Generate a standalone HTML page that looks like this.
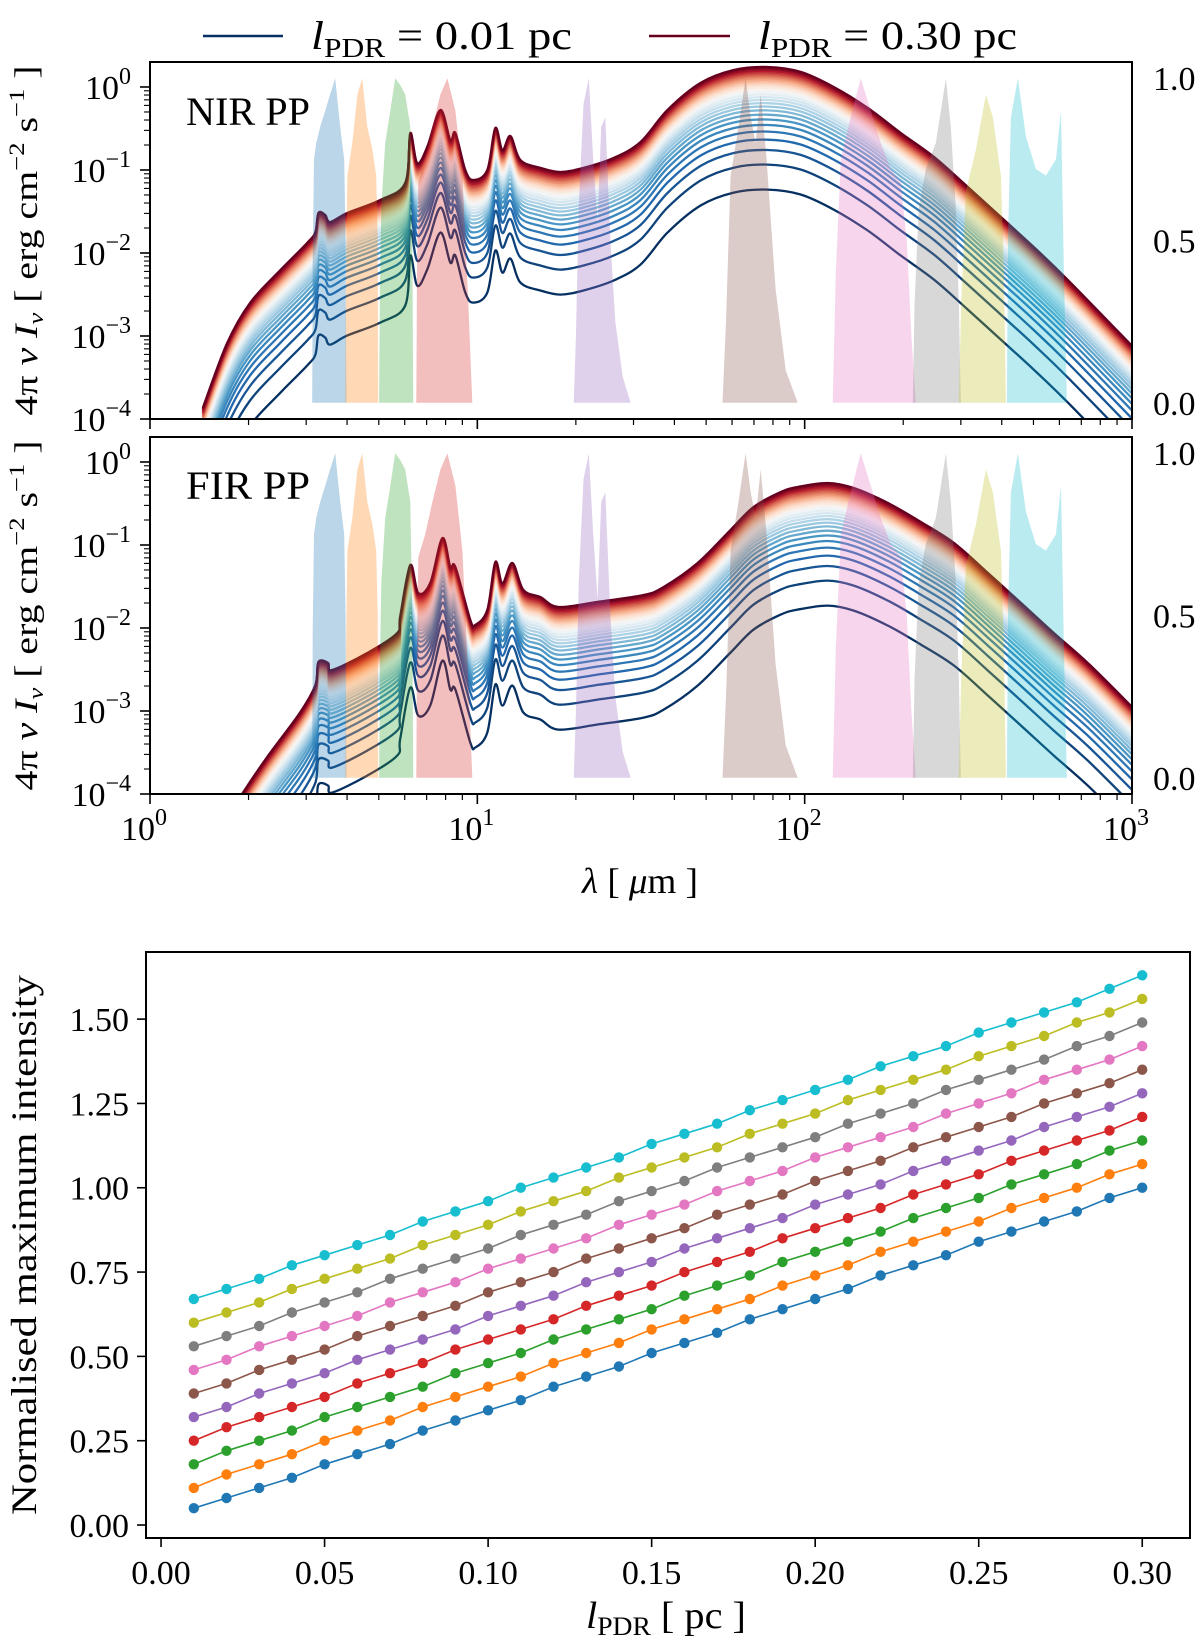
<!DOCTYPE html>
<html><head><meta charset="utf-8"><title>PDR SEDs</title>
<style>
html,body{margin:0;padding:0;background:#fff;}
svg{display:block;}
text{font-family:"Liberation Serif","DejaVu Serif",serif;fill:#000;}
</style></head>
<body>
<svg id="fig" xmlns="http://www.w3.org/2000/svg" width="1200" height="1644" viewBox="0 0 1200 1644">
<defs>
<clipPath id="clipA"><rect x="150" y="62" width="982" height="357"/></clipPath>
<clipPath id="clipB"><rect x="150" y="437" width="982" height="357"/></clipPath>
</defs>
<g id="legend">
 <line x1="203" y1="36" x2="283" y2="36" stroke="#053061" stroke-width="2.5"/>
 <text x="311" y="49" font-size="40" textLength="261" lengthAdjust="spacingAndGlyphs"><tspan font-style="italic">l</tspan><tspan font-size="27" dy="8">PDR</tspan><tspan dy="-8"> = 0.01 pc</tspan></text>
 <line x1="649" y1="36" x2="730" y2="36" stroke="#67001f" stroke-width="2.5"/>
 <text x="758" y="49" font-size="40" textLength="259" lengthAdjust="spacingAndGlyphs"><tspan font-style="italic">l</tspan><tspan font-size="27" dy="8">PDR</tspan><tspan dy="-8"> = 0.30 pc</tspan></text>
</g>
<g id="panelA"></g>
<g id="panelB"></g>
<text x="640" y="893" font-size="36" text-anchor="middle" textLength="116" lengthAdjust="spacingAndGlyphs"><tspan font-style="italic">λ</tspan> [ <tspan font-style="italic">μ</tspan>m ]</text>
<g id="panelC"></g>
</svg>
<script>
// ---- SED chart data ----
const lpdr = [0.01,0.02,0.03,0.04,0.05,0.06,0.07,0.08,0.09,0.10,0.11,0.12,0.13,0.14,0.15,0.16,0.17,0.18,0.19,0.20,0.21,0.22,0.23,0.24,0.25,0.26,0.27,0.28,0.29,0.30];
const nirLam = [1.45,1.72,2.02,2.50,3.02,3.20,3.27,3.43,3.55,4.00,5.05,6.02,6.24,6.55,7.03,7.71,8.27,8.57,9.19,9.72,10.73,11.35,11.93,12.62,13.54,15.58,17.94,21.1,26.1,31.5,38.1,48.1,60.7,77.1,97.2,122.7,155.9,196.6,248,315,397,501,637,1000];
const nirI = [1.36e-4,8.2e-4,2.5e-3,6.2e-3,1.32e-2,1.79e-2,3.03e-2,2.87e-2,2.36e-2,3.03e-2,4.35e-2,6.97e-2,0.279,0.121,0.189,0.528,0.230,0.279,0.100,7.58e-2,0.100,0.321,0.174,0.257,0.132,0.106,9.46e-2,0.106,0.140,0.217,0.528,1.12,1.60,1.74,1.52,1.0,0.558,0.279,0.144,6.24e-2,2.72e-2,1.18e-2,4.73e-3,7.6e-4];
const firLam = [1.91,2.28,2.87,3.20,3.27,3.50,3.60,4.61,5.69,5.81,6.24,6.60,7.18,7.82,8.27,8.57,9.52,9.86,10.73,11.35,11.93,12.80,13.83,15.58,17.69,23.3,32.2,37.1,47.1,59.4,69.8,84.5,95.2,117.5,141.2,179.5,226.5,285.7,363,458,577,733,1007];
const firI = [1.0e-4,2.79e-4,9.5e-4,2.06e-3,3.89e-3,3.79e-3,3.12e-3,5.0e-3,8.7e-3,1.36e-2,5.74e-2,2.64e-2,3.48e-2,0.121,5.43e-2,5.43e-2,1.25e-2,1.09e-2,1.65e-2,6.24e-2,3.48e-2,6.07e-2,2.87e-2,2.36e-2,1.79e-2,2.06e-2,2.50e-2,3.12e-2,6.07e-2,0.152,0.287,0.435,0.50,0.558,0.486,0.321,0.189,0.106,4.60e-2,2.0e-2,8.7e-3,3.79e-3,1.09e-3];
const filterColors = ['#1f77b4','#ff7f0e','#2ca02c','#d62728','#9467bd','#8c564b','#e377c2','#7f7f7f','#bcbd22','#17becf'];
const filterNames = ['irac-3.6','irac-4.5','irac-5.8','irac-8.0','mips-24','pacs-70','pacs-160','spire-250','spire-350','spire-500'];
const filterLam = [
 [3.13,3.14,3.17,3.22,3.31,3.43,3.55,3.68,3.81,3.92,3.96,3.98],
 [3.95,3.97,4.01,4.15,4.30,4.45,4.61,4.78,4.91,4.96,4.98],
 [5.01,5.04,5.09,5.23,5.42,5.61,5.81,6.02,6.24,6.33,6.37],
 [6.51,6.54,6.60,6.93,7.29,7.71,8.10,8.57,9.00,9.39,9.65],
 [19.7,20.0,20.4,21.1,21.9,22.6,23.3,23.9,24.6,25.5,26.4,27.8,29.4],
 [56.1,57.5,59.4,62.8,66.0,68.4,70.8,73.4,76.5,81.5,87.5,95.2],
 [121.8,124.5,128.9,138.2,148.3,159.2,170.8,183.2,196.6,205.1,212.0,218.5],
 [213.9,216.5,223.1,234.4,251.5,270.0,279.6,289.6,296.0,300.0],
 [295.8,300.5,310.7,333.4,357.7,375.8,397.6,406.0,411.9],
 [414.8,418.0,426.6,448.2,474.1,508.6,545.8,585.8,606.8,619.4,632.6]
];
const filterT = [
 [0,0.45,0.75,0.8,0.85,0.9,0.95,1.0,0.85,0.75,0.5,0],
 [0,0.4,0.7,0.8,0.95,1.0,0.85,0.78,0.7,0.5,0],
 [0,0.35,0.6,0.8,0.9,1.0,0.98,0.95,0.85,0.5,0],
 [0,0.4,0.68,0.75,0.85,0.95,1.0,0.9,0.7,0.3,0],
 [0,0.2,0.6,0.92,1.0,0.75,0.55,0.85,0.88,0.5,0.25,0.08,0],
 [0,0.25,0.7,0.85,1.0,0.88,0.8,0.95,0.75,0.35,0.1,0],
 [0,0.4,0.75,0.88,1.0,0.9,0.8,0.72,0.68,0.5,0.2,0],
 [0,0.3,0.6,0.72,0.8,1.0,0.85,0.6,0.3,0],
 [0,0.3,0.65,0.78,0.95,0.88,0.7,0.4,0],
 [0,0.5,0.88,1.0,0.82,0.72,0.7,0.75,0.9,0.4,0]
];
const xTickLabels = ['0','1','2','3'];
const yTickExps = ['0','−1','−2','−3','−4'];
const rightTickLabels = ['0.0','0.5','1.0'];

// ---- Normalised intensity chart data ----
const seriesColors = ['#1f77b4','#ff7f0e','#2ca02c','#d62728','#9467bd','#8c564b','#e377c2','#7f7f7f','#bcbd22','#17becf'];
const s0 = [.05,.08,.11,.14,.18,.21,.24,.28,.31,.34,.37,.41,.44,.47,.51,.54,.57,.61,.64,.67,.70,.74,.77,.80,.84,.87,.90,.93,.97,1.00];
const s1 = [.11,.15,.18,.21,.25,.28,.31,.35,.38,.41,.44,.48,.51,.54,.58,.61,.64,.67,.71,.74,.77,.81,.84,.87,.90,.94,.97,1.00,1.04,1.07];
const s2 = [.18,.22,.25,.28,.32,.35,.38,.41,.45,.48,.51,.55,.58,.61,.64,.68,.71,.74,.78,.81,.84,.87,.91,.94,.97,1.01,1.04,1.07,1.11,1.14];
const s3 = [.25,.29,.32,.35,.38,.42,.45,.48,.52,.55,.58,.61,.65,.68,.71,.75,.78,.81,.85,.88,.91,.94,.98,1.01,1.04,1.08,1.11,1.14,1.17,1.21];
const s4 = [.32,.35,.39,.42,.45,.49,.52,.55,.58,.62,.65,.68,.72,.75,.78,.82,.85,.88,.91,.95,.98,1.01,1.05,1.08,1.11,1.14,1.18,1.21,1.24,1.28];
const s5 = [.39,.42,.46,.49,.52,.56,.59,.62,.65,.69,.72,.75,.79,.82,.85,.88,.92,.95,.98,1.02,1.05,1.08,1.12,1.15,1.18,1.21,1.25,1.28,1.31,1.35];
const s6 = [.46,.49,.53,.56,.59,.62,.66,.69,.72,.76,.79,.82,.85,.89,.92,.95,.99,1.02,1.05,1.09,1.12,1.15,1.18,1.22,1.25,1.28,1.32,1.35,1.38,1.42];
const s7 = [.53,.56,.59,.63,.66,.69,.73,.76,.79,.82,.86,.89,.92,.96,.99,1.02,1.06,1.09,1.12,1.15,1.19,1.22,1.25,1.29,1.32,1.35,1.38,1.42,1.45,1.49];
const s8 = [.60,.63,.66,.70,.73,.76,.79,.83,.86,.89,.93,.96,.99,1.03,1.06,1.09,1.12,1.16,1.19,1.22,1.26,1.29,1.32,1.35,1.39,1.42,1.45,1.49,1.52,1.56];
const s9 = [.67,.70,.73,.77,.80,.83,.86,.90,.93,.96,1.00,1.03,1.06,1.09,1.13,1.16,1.19,1.23,1.26,1.29,1.32,1.36,1.39,1.42,1.46,1.49,1.52,1.55,1.59,1.63];
const allSeries = [s0,s1,s2,s3,s4,s5,s6,s7,s8,s9];
const bxTicks = [0,0.05,0.10,0.15,0.20,0.25,0.30];
const bxTickLabels = ['0.00','0.05','0.10','0.15','0.20','0.25','0.30'];
const byTicks = [0,0.25,0.5,0.75,1.0,1.25,1.5];
const byTickLabels = ['0.00','0.25','0.50','0.75','1.00','1.25','1.50'];

const NS = 'http://www.w3.org/2000/svg';
function mk(tag, parent, attrs){ const e=document.createElementNS(NS,tag); for(const k in attrs) e.setAttribute(k,attrs[k]); parent.appendChild(e); return e; }

const cmap = ['#053061','#2166ac','#4393c3','#92c5de','#d1e5f0','#f7f7f7','#fddbc7','#f4a582','#d6604d','#b2182b','#67001f'];
function hex2(c){return [parseInt(c.slice(1,3),16),parseInt(c.slice(3,5),16),parseInt(c.slice(5,7),16)];}
function rdbu(t){ const p=t*10, i=Math.min(9,Math.floor(p)), f=p-i; const a=hex2(cmap[i]), b=hex2(cmap[i+1]); return 'rgb('+a.map((v,k)=>Math.round(v+(b[k]-v)*f)).join(',')+')'; }
function smoothPath(pts){
  let d='M'+pts[0][0].toFixed(1)+','+pts[0][1].toFixed(1);
  for(let i=0;i<pts.length-1;i++){
    const p0=pts[Math.max(0,i-1)], p1=pts[i], p2=pts[i+1], p3=pts[Math.min(pts.length-1,i+2)];
    const c1=[p1[0]+(p2[0]-p0[0])/6, p1[1]+(p2[1]-p0[1])/6];
    const c2=[p2[0]-(p3[0]-p1[0])/6, p2[1]-(p3[1]-p1[1])/6];
    d+='C'+c1[0].toFixed(1)+','+c1[1].toFixed(1)+' '+c2[0].toFixed(1)+','+c2[1].toFixed(1)+' '+p2[0].toFixed(1)+','+p2[1].toFixed(1);
  }
  return d;
}

const X0=150, X1=1132;
function xLog(lam){ return X0 + Math.log10(lam)/3*(X1-X0); }
function makePanel(gid, clipId, yTop, yBot, lam, inten, label, labelY){
  const g=document.getElementById(gid);
  const yLog = v => yBot - (Math.log10(v)+4)/4.301*(yBot-yTop);
  const yT = t => yBot - (t+0.05)/1.1*(yBot-yTop);
  const plot=mk('g',g,{'clip-path':'url(#'+clipId+')'});
  
  
  lpdr.forEach((l,i)=>{
    const f=l/0.30;
    const pts=lam.map((x,k)=>[xLog(x), yLog(inten[k]*f)]);
    const p=mk('path',plot,{d:smoothPath(pts),fill:'none',stroke:rdbu(i/(lpdr.length-1)),'stroke-width':2.3,'stroke-linejoin':'round'});
    
    
  });
  filterLam.forEach((fl,j)=>{
    let d='M'+xLog(fl[0]).toFixed(1)+','+yT(0).toFixed(1);
    fl.forEach((x,k)=>{ d+='L'+xLog(x).toFixed(1)+','+yT(filterT[j][k]).toFixed(1); });
    d+='Z';
    const p=mk('path',plot,{d:d,fill:filterColors[j],'fill-opacity':0.3,stroke:'none'});
    
    
  });
  const fr=mk('rect',g,{x:X0,y:yTop,width:X1-X0,height:yBot-yTop,fill:'none',stroke:'#000','stroke-width':2});
  
  
  for(let dd=0; dd<=3; dd++){
    const x=xLog(Math.pow(10,dd));
    mk('line',g,{x1:x,x2:x,y1:yBot,y2:yBot+10,stroke:'#000','stroke-width':1.6});
    if(dd<3) for(let m=2;m<=9;m++){ const xm=xLog(m*Math.pow(10,dd)); mk('line',g,{x1:xm,x2:xm,y1:yBot,y2:yBot+6,stroke:'#000','stroke-width':1.2}); }
  }
  for(let dd=-4; dd<=0; dd++){
    const y=yLog(Math.pow(10,dd));
    mk('line',g,{x1:X0-10,x2:X0,y1:y,y2:y,stroke:'#000','stroke-width':1.6});
    for(let m=2;m<=9;m++){ const v=m*Math.pow(10,dd); if(Math.log10(v)<=0.301){ const ym=yLog(v); mk('line',g,{x1:X0-6,x2:X0,y1:ym,y2:ym,stroke:'#000','stroke-width':1.1}); } }
    const t=mk('text',g,{x:131,y:(y+12).toFixed(1),'font-size':34,'text-anchor':'end'});
    
    
    t.innerHTML='10<tspan font-size="24" dy="-15">'+yTickExps[-dd]+'</tspan>';
  }
  [0,0.5,1.0].forEach((v,k)=>{
    const t=mk('text',g,{x:1153,y:(yT(v)+12).toFixed(1),'font-size':34});
    
    
    t.textContent=rightTickLabels[k];
  });
  const pl=mk('text',g,{x:186,y:labelY,'font-size':40,textLength:124,lengthAdjust:'spacingAndGlyphs'});
  
  
  pl.textContent=label;
  const cy=(yTop+yBot)/2;
  const yt=mk('text',g,{x:0,y:0,'font-size':33,'text-anchor':'middle',transform:'translate(37,'+cy+') rotate(-90)',textLength:350,lengthAdjust:'spacingAndGlyphs'});
  
  
  yt.innerHTML='4π <tspan font-style="italic">ν I</tspan><tspan font-size="22" dy="6" font-style="italic">ν</tspan><tspan dy="-6"> [ erg cm</tspan><tspan font-size="22" dy="-13">−2</tspan><tspan dy="13"> s</tspan><tspan font-size="22" dy="-13">−1</tspan><tspan dy="13"> ]</tspan>';
}
makePanel('panelA','clipA',62,419,nirLam,nirI,'NIR PP',125);
makePanel('panelB','clipB',437,794,firLam,firI,'FIR PP',499);
(function(){
  const g=document.getElementById('panelB');
  for(let dd=0; dd<=3; dd++){
    const t=mk('text',g,{x:xLog(Math.pow(10,dd))-6,y:840,'font-size':34,'text-anchor':'middle'});
    
    
    t.innerHTML='10<tspan font-size="24" dy="-15">'+xTickLabels[dd]+'</tspan>';
  }
})();

(function(){
  const g=document.getElementById('panelC');
  const L=146,R=1190,T=952,B=1538;
  const xmin=-0.0046,xmax=0.3146,ymin=-0.0385,ymax=1.699;
  const X=v=>L+(v-xmin)/(xmax-xmin)*(R-L);
  const Y=v=>B-(v-ymin)/(ymax-ymin)*(B-T);
  allSeries.forEach((s,j)=>{
    const sg=mk('g',g,{});
    
    
    let d='';
    s.forEach((v,k)=>{ d+=(k?'L':'M')+X(lpdr[k]).toFixed(1)+','+Y(v).toFixed(1); });
    const ln=mk('path',sg,{d:d,fill:'none',stroke:seriesColors[j],'stroke-width':1.6});
    
    
    s.forEach((v,k)=>{
      const c=mk('circle',sg,{cx:X(lpdr[k]).toFixed(1),cy:Y(v).toFixed(1),r:5.2,fill:seriesColors[j]});
      
      
    });
  });
  const fr=mk('rect',g,{x:L,y:T,width:R-L,height:B-T,fill:'none',stroke:'#000','stroke-width':2});
  
  
  bxTicks.forEach((v,k)=>{
    const x=X(v);
    mk('line',g,{x1:x,x2:x,y1:B,y2:B+9,stroke:'#000','stroke-width':1.6});
    const t=mk('text',g,{x:x,y:1584,'font-size':34,'text-anchor':'middle'});
    
    
    t.textContent=bxTickLabels[k];
  });
  byTicks.forEach((v,k)=>{
    const y=Y(v);
    mk('line',g,{x1:L-9,x2:L,y1:y,y2:y,stroke:'#000','stroke-width':1.6});
    const t=mk('text',g,{x:129,y:(y+12).toFixed(1),'font-size':34,'text-anchor':'end'});
    
    
    t.textContent=byTickLabels[k];
  });
  const xt=mk('text',g,{x:666,y:1628,'font-size':38,'text-anchor':'middle',textLength:160,lengthAdjust:'spacingAndGlyphs'});
  
  
  xt.innerHTML='<tspan font-style="italic">l</tspan><tspan font-size="26" dy="7">PDR</tspan><tspan dy="-7"> [ pc ]</tspan>';
  const yt=mk('text',g,{x:0,y:0,'font-size':36,'text-anchor':'middle',transform:'translate(36,1245) rotate(-90)',textLength:540,lengthAdjust:'spacingAndGlyphs'});
  
  
  yt.textContent='Normalised maximum intensity';
})();
</script>
</body></html>
